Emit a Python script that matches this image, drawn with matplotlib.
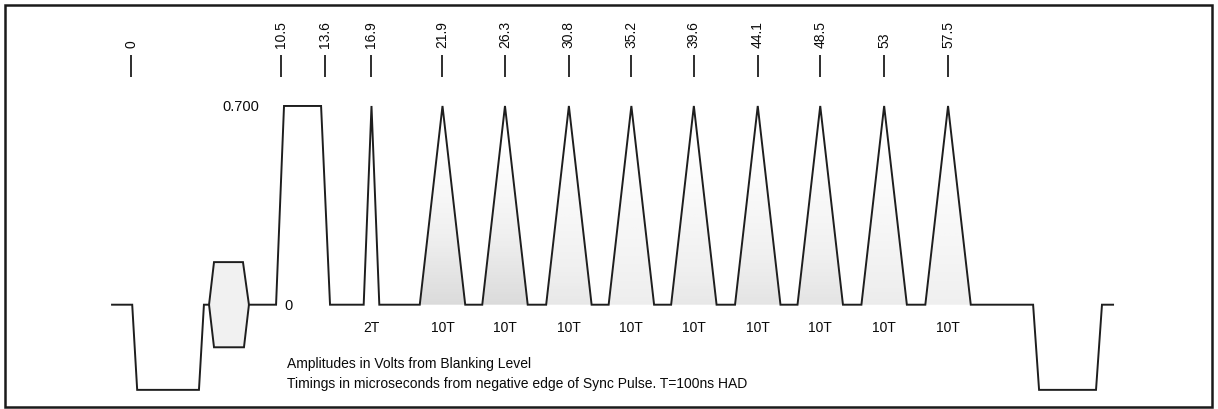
import numpy as np
import matplotlib
matplotlib.use("Agg")
import matplotlib.pyplot as plt
from matplotlib.patches import Polygon, Rectangle

plt.rcParams['font.family'] = ['Liberation Sans', 'DejaVu Sans']

# ---------------- data (microseconds / volts) ----------------
tick_values = [0, 10.5, 13.6, 16.9, 21.9, 26.3, 30.8, 35.2, 39.6, 44.1, 48.5, 53, 57.5]
tick_labels = ['0', '10.5', '13.6', '16.9', '21.9', '26.3', '30.8', '35.2', '39.6',
               '44.1', '48.5', '53', '57.5']

peak_level = 0.700
blank_level = 0.0
sync_level = -0.3
burst_amp = 0.15

# leading part of line (start, sync, back porch up to burst)
lead_t = [-1.37, 0.05, 0.40, 4.75, 5.10, 5.46]
lead_v = [0.0, 0.0, -0.3, -0.3, 0.0, 0.0]

# burst envelope (hexagon)
burst_t = [5.46, 5.81, 7.85, 8.27, 7.92, 5.81]
burst_v = [0.0, 0.15, 0.15, 0.0, -0.15, -0.15]

# bar
bar_t = [8.27, 10.18, 10.74, 13.35, 13.98]
bar_v = [0.0, 0.0, 0.7, 0.7, 0.0]

# 2T pulse
pulse2T_peak = 16.9
pulse2T_half = 0.55

# 10T pulses
pulse10T_peaks = [21.9, 26.3, 30.8, 35.2, 39.6, 44.1, 48.5, 53, 57.5]
pulse10T_half = 1.6
pulse10T_shade = [0.24, 0.24, 0.17, 0.14, 0.17, 0.19, 0.19, 0.15, 0.13]

# trailing part (next sync)
trail_t = [63.49, 63.91, 67.92, 68.34, 69.12]
trail_v = [0.0, -0.3, -0.3, 0.0, 0.0]

notes = ["Amplitudes in Volts from Blanking Level",
         "Timings in microseconds from negative edge of Sync Pulse. T=100ns HAD"]

# ---------------- figure ----------------
fig = plt.figure(figsize=(12.18, 4.10), dpi=100)
ax = fig.add_axes([0, 0, 1, 1])
ax.axis('off')

LC = '#1e1e1e'
TC = '#0a0a0a'
LW = 1.4
FS = 10

# build main waveform after burst
main_t = list(bar_t)
main_v = list(bar_v)
main_t += [pulse2T_peak - pulse2T_half, pulse2T_peak, pulse2T_peak + pulse2T_half]
main_v += [blank_level, peak_level, blank_level]
for p in pulse10T_peaks:
    main_t += [p - pulse10T_half, p, p + pulse10T_half]
    main_v += [blank_level, peak_level, blank_level]
main_t += trail_t
main_v += trail_v

# shaded 10T pulses (gradient fading upwards)
ny = 200
yy = np.linspace(0, 1, ny)
for p, s in zip(pulse10T_peaks, pulse10T_shade):
    grad = s * np.clip(1 - yy / 0.8, 0, 1) ** 1.1
    img = np.tile(grad[:, None], (1, 4))
    tri = Polygon([[p - pulse10T_half, 0], [p, peak_level], [p + pulse10T_half, 0]],
                  closed=True, facecolor='none', edgecolor='none')
    ax.add_patch(tri)
    im = ax.imshow(img, extent=[p - pulse10T_half, p + pulse10T_half, 0, peak_level],
                   origin='lower', cmap='Greys', vmin=0, vmax=1, aspect='auto',
                   interpolation='bilinear', zorder=1)
    im.set_clip_path(tri)

# burst
ax.add_patch(Polygon(np.column_stack([burst_t, burst_v]), closed=True,
                     facecolor='#f1f1f1', edgecolor=LC, lw=LW, zorder=2))

ax.plot(lead_t, lead_v, color=LC, lw=LW, solid_joinstyle='miter', zorder=3)
ax.plot(main_t, main_v, color=LC, lw=LW, solid_joinstyle='miter', zorder=3)

# timing ticks
ax.vlines(tick_values, 0.802, 0.8795, color=LC, lw=1.3)
for v, lab in zip(tick_values, tick_labels):
    ax.text(v, 0.908, lab, rotation=90, ha='center', va='bottom', fontsize=FS, color=TC)

# level labels
ax.text(8.98, peak_level, '0.700', ha='right', va='center', fontsize=10.5, color=TC)
ax.text(10.8, blank_level, '0', ha='left', va='center', fontsize=10.5, color=TC)

# pulse labels
ax.text(pulse2T_peak, -0.078, '2T', ha='center', va='center', fontsize=FS, color=TC)
for p in pulse10T_peaks:
    ax.text(p, -0.078, '10T', ha='center', va='center', fontsize=FS, color=TC)

# notes
ax.text(10.95, -0.219, notes[0], ha='left', va='baseline', fontsize=FS, color=TC)
ax.text(10.95, -0.290, notes[1], ha='left', va='baseline', fontsize=FS, color=TC)

# frame
ax.add_patch(Rectangle((5 / 1218, 2 / 410), (1212 - 5) / 1218, (404 - 2) / 410,
                       transform=ax.transAxes, fill=False, edgecolor='#1a1a1a', lw=1.8,
                       zorder=5, clip_on=False))

ax.set_xlim(-9.26, 76.51)
ax.set_ylim(-0.3674, 1.0768)

fig.savefig('out.png', dpi=100)
